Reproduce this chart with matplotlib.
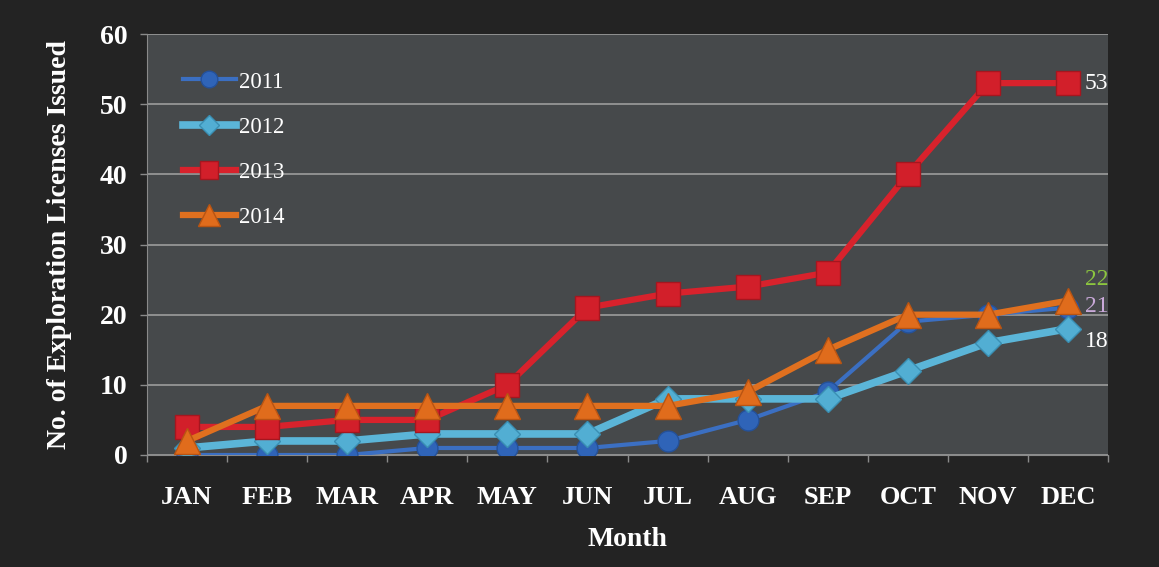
import matplotlib.pyplot as plt

months = ["JAN", "FEB", "MAR", "APR", "MAY", "JUN", "JUL", "AUG", "SEP", "OCT", "NOV", "DEC"]
y2011 = [0, 0, 0, 1, 1, 1, 2, 5, 9, 19, 20, 21]
y2012 = [1, 2, 2, 3, 3, 3, 8, 8, 8, 12, 16, 18]
y2013 = [4, 4, 5, 5, 10, 21, 23, 24, 26, 40, 53, 53]
y2014 = [2, 7, 7, 7, 7, 7, 7, 9, 15, 20, 20, 22]

plt.rcParams['font.family'] = ['Liberation Serif', 'DejaVu Serif']

fig = plt.figure(figsize=(11.59, 5.67), dpi=100)
fig.patch.set_facecolor('#232323')
ax = fig.add_axes([147/1159, 1 - 455/567, 961/1159, 421/567])
ax.set_facecolor('#46494b')

x = list(range(len(months)))

ax.plot(x, y2011, color='#3b6fc2', lw=3, marker='o', ms=15,
        mfc='#2f64b8', mec='#24519a', mew=1, label='2011', zorder=3)
ax.plot(x, y2012, color='#5bb5d8', lw=5.5, marker='D', ms=13,
        mfc='#52aed3', mec='#3a8fb3', mew=1, label='2012', zorder=4)
ax.plot(x, y2013, color='#d8222c', lw=4.5, marker='s', ms=17,
        mfc='#d21f2a', mec='#a5161f', mew=1, label='2013', zorder=5)
ax.plot(x, y2014, color='#e0701f', lw=4.5, marker='^', ms=19,
        mfc='#e06c1c', mec='#b95412', mew=1, label='2014', zorder=6)

# end-of-line value labels
end_style = dict(textcoords='offset points', fontsize=17, va='center', ha='left',
                 annotation_clip=False)
ax.annotate(str(y2013[-1]), (x[-1], y2013[-1]), xytext=(12, 0), color='white', **end_style)
ax.annotate(str(y2014[-1]), (x[-1], y2014[-1]), xytext=(12, 15), color='#8cc63f', **end_style)
ax.annotate(str(y2011[-1]), (x[-1], y2011[-1]), xytext=(12, 1), color='#c9a9d9', **end_style)
ax.annotate(str(y2012[-1]), (x[-1], y2012[-1]), xytext=(12, -9), color='white', **end_style)

ax.set_xlim(-0.5, 11.5)
ax.set_ylim(0, 60)
ax.set_yticks(range(0, 61, 10))
ax.set_xticks(x)
ax.set_xticklabels(months)
ax.set_xticks([i - 0.5 for i in range(13)], minor=True)
ax.tick_params(axis='x', which='major', length=0, pad=22, labelsize=19, colors='white')
ax.tick_params(axis='x', which='minor', length=5, width=1, color='#8a8a8a', direction='out')
ax.tick_params(axis='y', length=5, width=1, color='#8a8a8a', pad=9, labelsize=20, labelcolor='white')
for lbl in ax.get_xticklabels() + ax.get_yticklabels():
    lbl.set_fontweight('bold')

ax.grid(axis='y', color='#9c9c9c', lw=1.2)
ax.set_axisbelow(True)
for side in ['top', 'right']:
    ax.spines[side].set_visible(False)
ax.spines['left'].set_color('#8a8a8a')
ax.spines['bottom'].set_color('#8a8a8a')

ax.set_xlabel("Month", fontsize=20, fontweight='bold', color='white', labelpad=13)
ax.set_ylabel("No. of Exploration Licenses Issued", fontsize=20, fontweight='bold',
              color='white', labelpad=20)

leg = ax.legend(loc='upper left', bbox_to_anchor=(0.016, 0.96), frameon=False,
                fontsize=16.5, handlelength=2.3, handletextpad=0.15, labelspacing=1.05,
                markerscale=0.8)
for t in leg.get_texts():
    t.set_color('white')

fig.savefig('out.png', dpi=100, facecolor=fig.get_facecolor())
